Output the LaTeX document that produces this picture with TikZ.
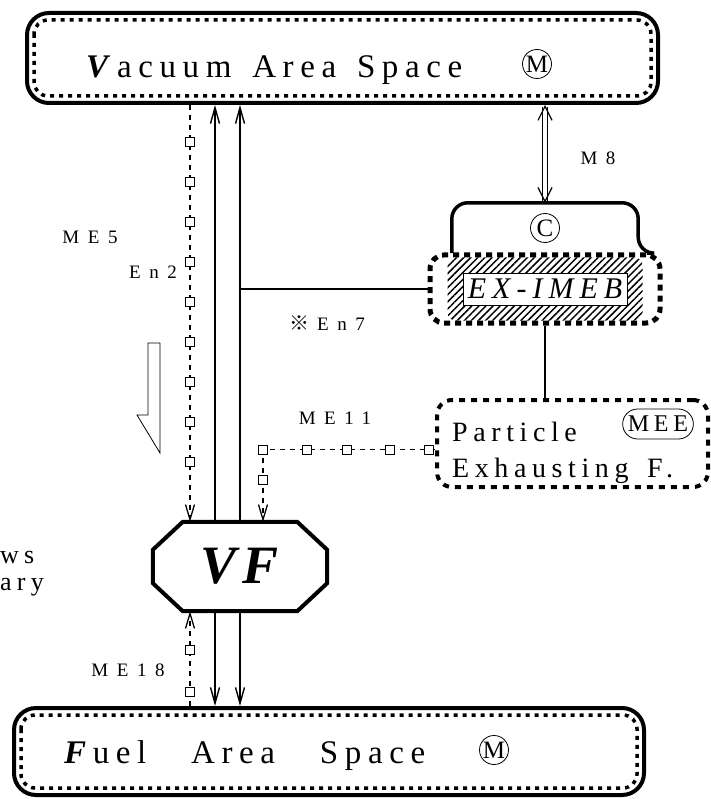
\documentclass[tikz,border=0pt]{standalone}
\usepackage{fontspec}
\setmainfont{Liberation Serif}
\newfontfamily\spacefont[LetterSpace=20]{Liberation Serif}
\newfontfamily\tagfont[LetterSpace=45]{Liberation Serif}
\newfontfamily\refmarkfont{Noto Sans CJK JP}
\usetikzlibrary{positioning, arrows.meta, calc, patterns.meta, shapes.misc}

\begin{document}
\begin{tikzpicture}[
  x=1pt, y=-1pt,
  spacebox/.style={draw, line width=4pt, rounded corners=22pt, inner sep=0pt},
  innerdash/.style={line width=3.5pt, dash pattern=on 4pt off 5pt, rounded corners=14pt},
  boxtext/.style={font=\spacefont\fontsize{33}{33}\selectfont, inner sep=0pt},
  circmark/.style={circle, draw, line width=0.8pt, minimum size=29pt, inner sep=0pt,
    font=\fontsize{25}{25}\selectfont},
  flow/.style={line width=1.4pt, -{Straight Barb[length=16pt, width=9pt]}},
  meline/.style={line width=1.3pt, dash pattern=on 5pt off 5pt,
    -{Straight Barb[length=15pt, width=9pt]}},
  sq/.style={draw, line width=0.9pt, fill=white, minimum size=9pt, inner sep=0pt},
  tag/.style={font=\tagfont\fontsize{19}{19}\selectfont, inner sep=1pt},
  conn/.style={line width=1.2pt},
  dotbox/.style={draw, line width=5pt, dash pattern=on 6pt off 5pt,
    rounded corners=14pt, inner sep=0pt},
  bracket/.style={line width=3.5pt, rounded corners=16pt}
]
\useasboundingbox (0,0) rectangle (710,799);

% spaces
\node[spacebox, minimum width=631pt, minimum height=90pt] (vac) at (342.5,58) {};
\draw[innerdash] ([shift={(9pt,-9pt)}]vac.north west) rectangle ([shift={(-9pt,9pt)}]vac.south east);
\node[boxtext, anchor=base west] (vactxt) at (86,78)
  {\textbf{\textit{V}}acuum\hspace{6pt} Area\hspace{6pt} Space};
\node[circmark] (vacm) at (537,64) {M};

\node[spacebox, minimum width=630pt, minimum height=87pt] (fuel) at (329,751.5) {};
\draw[innerdash] ([shift={(9pt,-9pt)}]fuel.north west) rectangle ([shift={(-9pt,9pt)}]fuel.south east);
\node[boxtext, anchor=base west] (fueltxt) at (64,763)
  {\textbf{\textit{F}}uel\hspace{30pt} Area\hspace{30pt} Space};
\node[circmark] (fuelm) at (494,750) {M};

% VF
\node[minimum width=174pt, minimum height=89pt, font=\fontsize{54}{54}\selectfont\bfseries\itshape]
  (vf) at (240,566.5) {V\hspace{6pt}F};
\draw[line width=4pt] ([xshift=30pt]vf.north west) -- ([xshift=-30pt]vf.north east)
  -- ([yshift=-28pt]vf.north east) -- ([yshift=28pt]vf.south east)
  -- ([xshift=-30pt]vf.south east) -- ([xshift=30pt]vf.south west)
  -- ([yshift=28pt]vf.south west) -- ([yshift=-28pt]vf.north west) -- cycle;

\draw[flow] ([xshift=-25pt]vf.north) -- ([xshift=-25pt]vf.north |- vac.south);
\draw[flow] (vf.north) -- (vf.north |- vac.south);
\draw[flow] ([xshift=-25pt]vf.south) -- ([xshift=-25pt]vf.south |- fuel.north);
\draw[flow] (vf.south) -- (vf.south |- fuel.north);

% C / EX-IMEB
\node[minimum width=186pt, minimum height=50pt] (cbox) at (545,228) {};
\draw[bracket] (cbox.south west) -- (cbox.north west) -- (cbox.north east)
  -- (cbox.south east) -- ++(9,0);
\node[circmark] (cmark) at (cbox.center) {C};
\draw[line width=1.2pt, double distance=4pt,
  {Straight Barb[length=14pt, width=14pt]}-{Straight Barb[length=14pt, width=14pt]}]
  (cbox.north) -- (cbox.north |- vac.south);
\node[tag] (m8) at (598,158) {M8};

\node[dotbox, minimum width=230pt, minimum height=68pt] (exo) at (545,289) {};
\fill[pattern={Lines[angle=45, distance=5pt, line width=1.5pt]}, rounded corners=8pt]
  ([shift={(20pt,-5pt)}]exo.north west) rectangle ([shift={(-20pt,5pt)}]exo.south east);
\node[draw, line width=0.8pt, fill=white, minimum width=164pt, minimum height=32pt,
  inner sep=0pt, font=\spacefont\fontsize{30}{30}\selectfont\itshape] (exi) at (exo.center) {EX-IMEB};

\draw[conn] (exo.west) -- (exo.west -| vf.north);
\node[tag] (en7) at (327,323) {{\refmarkfont\fontsize{20}{20}\selectfont ※}\hspace{8pt}En7};

% particle exhausting
\node[draw, line width=4pt, dash pattern=on 6pt off 6pt, rounded corners=15pt,
  minimum width=271pt, minimum height=87pt] (part) at (572.5,443.5) {};
\draw[conn] (exo.south) -- (exo.south |- part.north);
\node[font=\spacefont\fontsize{28}{28}\selectfont, anchor=base west, inner sep=0pt]
  (ptxt) at (452,441) {Particle};
\node[font=\spacefont\fontsize{28}{28}\selectfont, anchor=base west, inner sep=0pt]
  (etxt) at (452,477) {Exhausting\hspace{6pt} F.};
\node[rounded rectangle, draw, line width=0.8pt, minimum height=30pt, inner xsep=3pt,
  font=\spacefont\fontsize{24}{24}\selectfont] (mee) at (658,424) {MEE};

% ME lines
\draw[meline] ([xshift=-50pt]vf.north |- vac.south) -- ([xshift=-50pt]vf.north);
\foreach \y in {142,182,...,462}
  \node[sq] (me5q\y) at (190,\y) {};
\node[tag] (me5) at (90,237) {ME5};
\node[tag] (en2) at (153,272) {En2};

\draw[meline] ([yshift=-6pt]part.west) -| ([xshift=23pt]vf.north);
\foreach \x in {263,307,347,390,429}
  \node[sq] (me11q\x) at (\x,450) {};
\node[sq] (me11v) at (263,480) {};
\node[tag] (me11) at (335,418) {ME11};

\draw[meline] ([xshift=-50pt]vf.south |- fuel.north) -- ([xshift=-50pt]vf.south);
\node[sq] (me18a) at (190,650) {};
\node[sq] (me18b) at (190,692) {};
\node[tag] (me18) at (128,670) {ME18};

% hollow arrow
\draw[line width=0.8pt] (148,343) -- (160,343) -- (160,453) -- (137,415) -- (148,415) -- cycle;

\node[font=\spacefont\fontsize{26}{26}\selectfont, anchor=base west, inner sep=0pt] (ws) at (0,563) {ws};
\node[font=\spacefont\fontsize{26}{26}\selectfont, anchor=base west, inner sep=0pt] (ary) at (0,590) {ary};
\end{tikzpicture}
\end{document}
